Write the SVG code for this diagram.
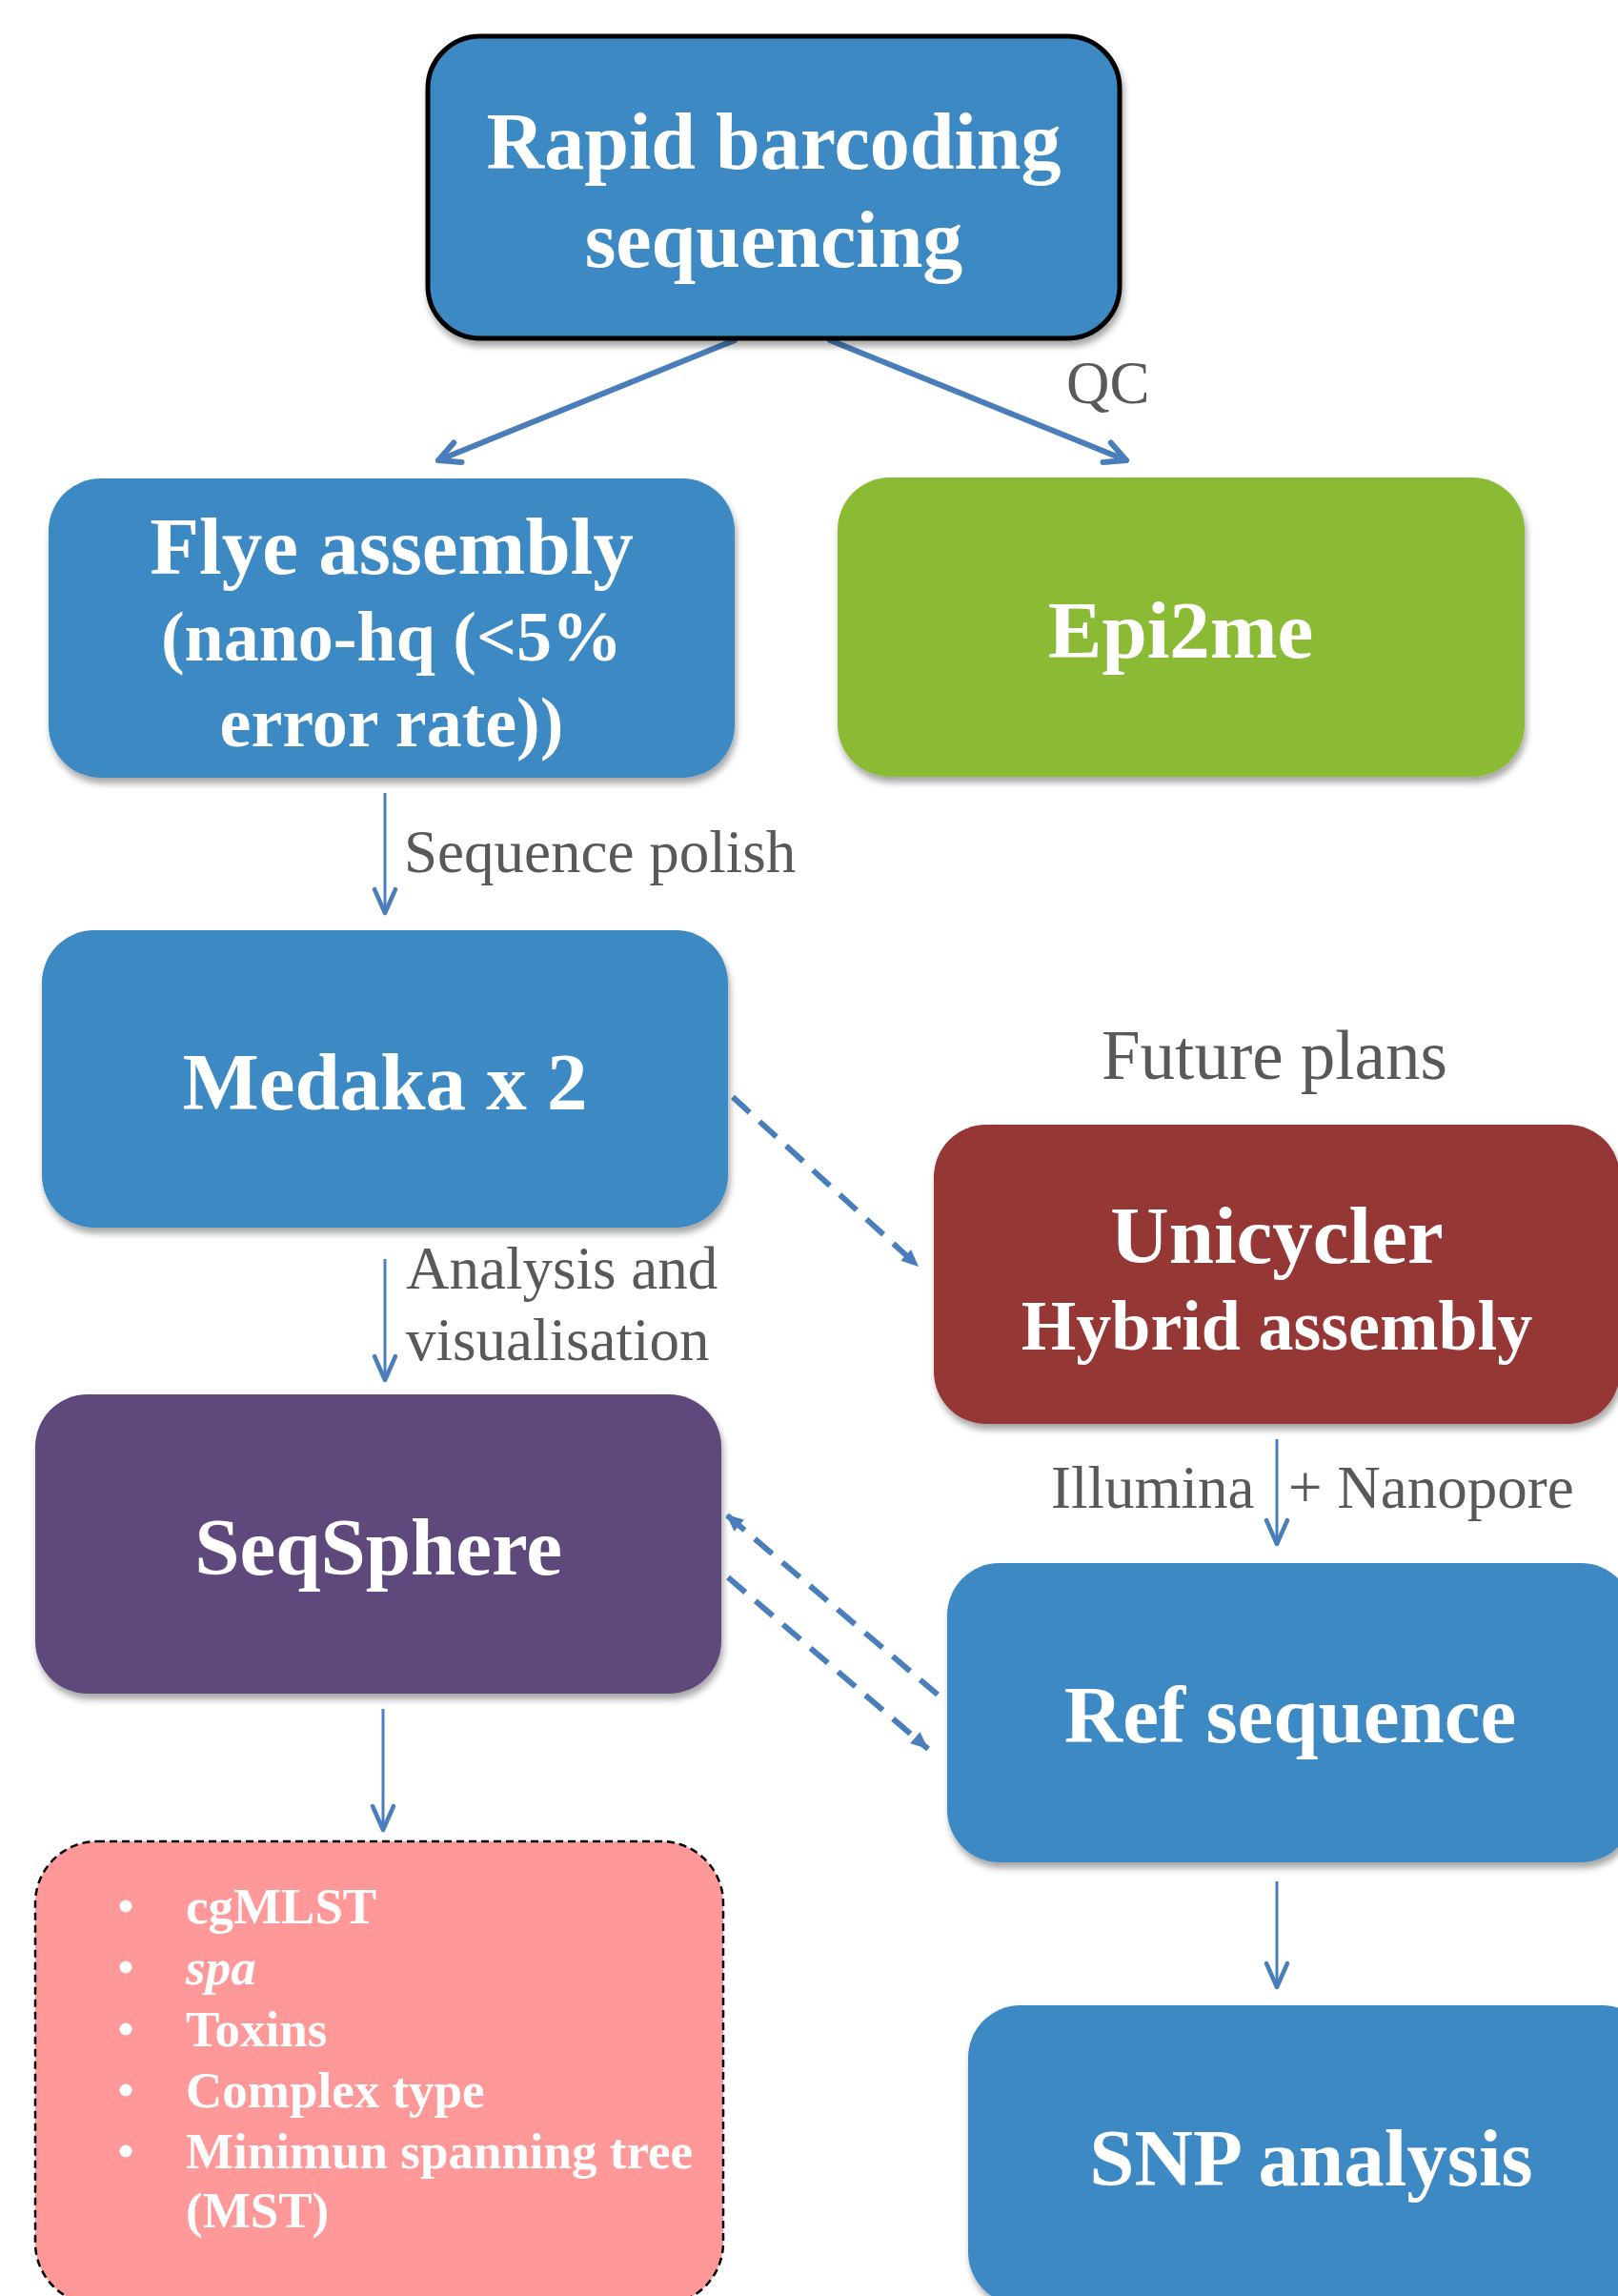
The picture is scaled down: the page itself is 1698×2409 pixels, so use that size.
<svg xmlns="http://www.w3.org/2000/svg" width="1698" height="2409" viewBox="0 0 1698 2409">
<style>
.box{filter:url(#sh)}
.blue{fill:#3E89C3}
.t{font-family:"Liberation Serif","Times New Roman",serif;font-weight:bold;fill:#ffffff;text-anchor:middle}
.lbl{font-family:"Liberation Serif","Times New Roman",serif;fill:#595959}
.li{font-family:"Liberation Serif","Times New Roman",serif;font-weight:bold;fill:#ffffff;font-size:53px}
.a1{stroke:#4A7EBB;stroke-width:6;fill:none;stroke-linecap:round}
.a2{stroke:#4A7EBB;stroke-width:3;fill:none}
.ad{stroke:#4A7EBB;stroke-width:6;fill:none;stroke-dasharray:24 14}
</style>
<defs>
<filter id="sh" x="-10%" y="-10%" width="120%" height="125%">
<feDropShadow dx="2" dy="6" stdDeviation="3.5" flood-color="#000000" flood-opacity="0.35"/>
</filter>
<marker id="mv1" markerUnits="userSpaceOnUse" viewBox="-30 -16 36 32" markerWidth="36" markerHeight="32" refX="0" refY="0" orient="auto">
<path d="M-22,-11 L0,0 L-22,11" fill="none" stroke="#4A7EBB" stroke-width="6" stroke-linecap="round" stroke-linejoin="round"/>
</marker>
<marker id="mv2" markerUnits="userSpaceOnUse" viewBox="-30 -16 36 32" markerWidth="36" markerHeight="32" refX="0" refY="0" orient="auto">
<path d="M-25,-11 L0,0 L-25,11" fill="none" stroke="#4A7EBB" stroke-width="4.5" stroke-linecap="round" stroke-linejoin="round"/>
</marker>
<marker id="mt" markerUnits="userSpaceOnUse" viewBox="-20 -10 22 20" markerWidth="22" markerHeight="20" refX="0" refY="0" orient="auto">
<path d="M0,0 L-18,-8 L-18,8 Z" fill="#4A7EBB"/>
</marker>
</defs>

<g id="connectors">
<line class="a1" x1="771" y1="357" x2="460" y2="483" marker-end="url(#mv1)"/>
<line class="a1" x1="871" y1="357" x2="1182" y2="483" marker-end="url(#mv1)"/>
<line class="a2" x1="404" y1="832" x2="404" y2="958" marker-end="url(#mv2)"/>
<line class="a2" x1="404" y1="1321" x2="404" y2="1448" marker-end="url(#mv2)"/>
<line class="a2" x1="402" y1="1793" x2="402" y2="1920" marker-end="url(#mv2)"/>
<line class="a2" x1="1340" y1="1510" x2="1340" y2="1620" marker-end="url(#mv2)"/>
<line class="a2" x1="1340" y1="1974" x2="1340" y2="2085" marker-end="url(#mv2)"/>
<line class="ad" x1="769" y1="1151" x2="964" y2="1329" marker-end="url(#mt)"/>
<line class="ad" x1="984" y1="1778" x2="762" y2="1589" marker-end="url(#mt)"/>
<line class="ad" x1="764" y1="1655" x2="974" y2="1835" marker-end="url(#mt)"/>
<text class="lbl" x="1119" y="423" font-size="63">QC</text>
<text class="lbl" x="424" y="915" font-size="63">Sequence polish</text>
<text class="lbl" x="1156" y="1132" font-size="73">Future plans</text>
<text class="lbl" x="426" y="1352" font-size="63">Analysis and</text>
<text class="lbl" x="426" y="1427" font-size="63">visualisation</text>
<text class="lbl" x="1103" y="1582" font-size="63">Illumina <tspan x="1352">+ Nanopore</tspan></text>
</g>

<g id="rapid">
<rect class="box blue" x="449" y="38" width="726" height="317" rx="55" stroke="#000000" stroke-width="5"/>
<text class="t" x="812" y="177" font-size="84">Rapid barcoding</text>
<text class="t" x="812" y="280" font-size="84">sequencing</text>
</g>

<g id="flye">
<rect class="box blue" x="51" y="502" width="720" height="314" rx="55"/>
<text class="t" x="411" y="602" font-size="85">Flye assembly</text>
<text class="t" x="411" y="693" font-size="74">(nano-hq (&lt;5%</text>
<text class="t" x="411" y="783" font-size="74">error rate))</text>
</g>

<g id="epi2me">
<rect class="box" x="879" y="501" width="721" height="314" rx="55" fill="#8BBB35"/>
<text class="t" x="1239" y="690" font-size="85">Epi2me</text>
</g>

<g id="medaka">
<rect class="box blue" x="44" y="976" width="720" height="312" rx="55"/>
<text class="t" x="404" y="1164" font-size="85">Medaka x 2</text>
</g>

<g id="unicycler">
<rect class="box" x="980" y="1180" width="720" height="314" rx="55" fill="#953735"/>
<text class="t" x="1340" y="1325" font-size="85">Unicycler</text>
<text class="t" x="1340" y="1416" font-size="74">Hybrid assembly</text>
</g>

<g id="seqsphere">
<rect class="box" x="37" y="1463" width="720" height="314" rx="55" fill="#5F4A7B"/>
<text class="t" x="397" y="1652" font-size="85">SeqSphere</text>
</g>

<g id="refseq">
<rect class="box blue" x="994" y="1640" width="720" height="314" rx="55"/>
<text class="t" x="1354" y="1828" font-size="85">Ref sequence</text>
</g>

<g id="results">
<rect x="37" y="1932" width="722" height="486" rx="65" fill="#FF9999" stroke="#000000" stroke-width="2.5" stroke-dasharray="8 5"/>
<g fill="#ffffff">
<circle cx="132" cy="2000" r="6.5"/>
<circle cx="132" cy="2064" r="6.5"/>
<circle cx="132" cy="2129" r="6.5"/>
<circle cx="132" cy="2193" r="6.5"/>
<circle cx="132" cy="2257" r="6.5"/>
</g>
<text class="li" x="195" y="2018">cgMLST</text>
<text class="li" x="195" y="2082" font-style="italic">spa</text>
<text class="li" x="195" y="2147">Toxins</text>
<text class="li" x="195" y="2211">Complex type</text>
<text class="li" x="195" y="2275">Minimun spanning tree</text>
<text class="li" x="195" y="2337">(MST)</text>
</g>

<g id="snp">
<rect class="box blue" x="1016" y="2104" width="720" height="314" rx="55"/>
<text class="t" x="1376" y="2293" font-size="85">SNP analysis</text>
</g>
</svg>
